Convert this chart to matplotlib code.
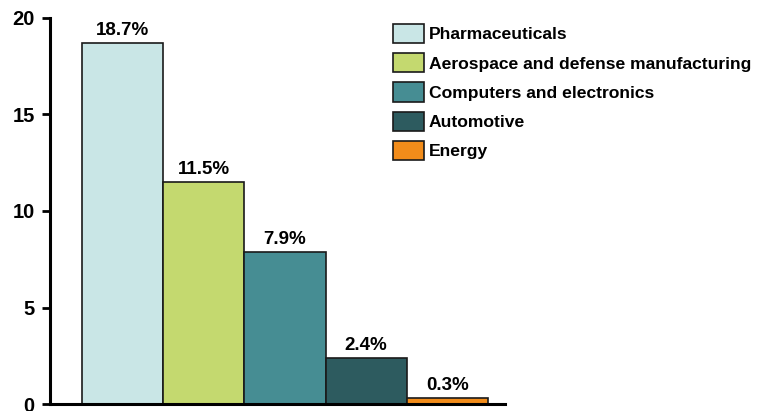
import matplotlib.pyplot as plt
import matplotlib.patches as mpatches

plt.rcParams['font.family'] = ['Liberation Sans', 'DejaVu Sans']

# data
sectors = ['Pharmaceuticals', 'Aerospace and defense manufacturing',
           'Computers and electronics', 'Automotive', 'Energy']
shares = [18.7, 11.5, 7.9, 2.4, 0.3]
labels = ['18.7%', '11.5%', '7.9%', '2.4%', '0.3%']
colors = ['#c9e6e6', '#c4d96f', '#468d93', '#2d5b5f', '#f28c1a']
yticks = [0, 5, 10, 15, 20]

fig = plt.figure(figsize=(7.64, 4.11), dpi=100)
ax = fig.add_axes([50 / 764, 1 - 404 / 411, 455 / 764, 386 / 411])

x = list(range(len(shares)))
bars = ax.bar(x, shares, width=1.0, color=colors, edgecolor='#1a1a1a', linewidth=1.2)

for xi, h, lab in zip(x, shares, labels):
    ax.text(xi, h + 0.2, lab, ha='center', va='bottom',
            fontsize=13.5, fontweight='bold')

ax.set_xlim(-0.894, 4.71)
ax.set_ylim(0, 20)
ax.set_yticks(yticks)
ax.set_xticks([])
for side in ['top', 'right']:
    ax.spines[side].set_visible(False)
ax.spines['left'].set_linewidth(2.2)
ax.spines['bottom'].set_linewidth(2.2)
ax.tick_params(axis='y', direction='out', length=6, width=2, pad=5)
for t in ax.get_yticklabels():
    t.set_fontweight('bold')
    t.set_fontsize(14.5)

handles = [mpatches.Patch(facecolor=c, edgecolor='#1a1a1a', linewidth=1.2) for c in colors]
fig.legend(handles, sectors, loc='upper left',
           bbox_to_anchor=(393 / 764, 1 - 24 / 411),
           frameon=False, prop={'weight': 'bold', 'size': 12.6},
           handlelength=1.75, handleheight=1.3, handletextpad=0.3,
           labelspacing=0.58, borderaxespad=0, borderpad=0)

fig.savefig('out.png', dpi=100)
